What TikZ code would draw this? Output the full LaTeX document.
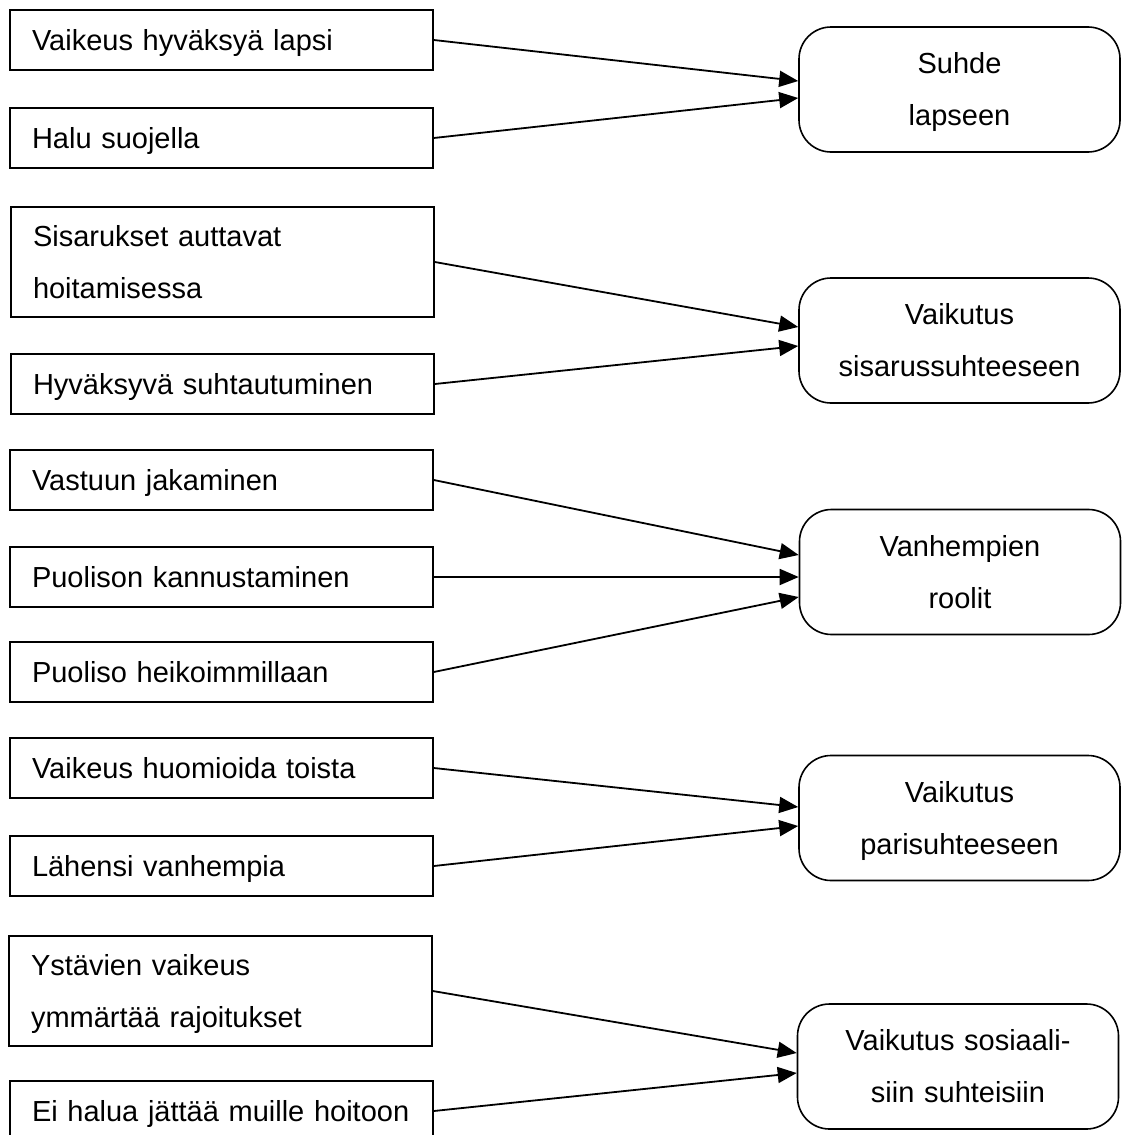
\documentclass[tikz,border=0pt]{standalone}
\usepackage{fontspec}
\setmainfont{Liberation Sans}
\usetikzlibrary{arrows.meta}
\begin{document}
\begin{tikzpicture}[x=1pt,y=-1pt,
  txt/.style={font=\fontsize{29}{52}\selectfont,
    execute at begin node=\strut, execute at end node=\strut},
  cause/.style={txt, draw, line width=1.6pt, minimum width=423pt,
    text width=379pt, inner xsep=22pt, inner ysep=0pt,
    minimum height=60pt, align=left},
  tall/.style={minimum height=110pt},
  effect/.style={txt, draw, line width=1.6pt, rounded corners=32pt,
    minimum width=321pt, minimum height=125pt, text width=300pt,
    inner xsep=10.5pt, inner ysep=0pt, align=center},
  link/.style={line width=1.8pt, -{Triangle[length=19pt,width=16pt]}}]

\useasboundingbox (0,0) rectangle (1124,1135);
\fill[white] (0,0) rectangle (1124,1135);

% causes (left column)
\node[cause] (b1) at (221.5,40) {Vaikeus hyväksyä lapsi};
\node[cause] (b2) at (221.5,138) {Halu suojella};
\node[cause,tall] (b3) at (222.5,262) {Sisarukset auttavat\\hoitamisessa};
\node[cause] (b4) at (222.5,384) {Hyväksyvä suhtautuminen};
\node[cause] (b5) at (221.5,480) {Vastuun jakaminen};
\node[cause] (b6) at (221.5,577) {Puolison kannustaminen};
\node[cause] (b7) at (221.5,672) {Puoliso heikoimmillaan};
\node[cause] (b8) at (221.5,768) {Vaikeus huomioida toista};
\node[cause] (b9) at (221.5,866) {Lähensi vanhempia};
\node[cause,tall] (b10) at (220.5,991) {Ystävien vaikeus\\ymmärtää rajoitukset};
\node[cause] (b11) at (221.5,1111) {Ei halua jättää muille hoitoon};

% effects (right column)
\node[effect] (r1) at (959.5,89.5) {Suhde\\lapseen};
\node[effect] (r2) at (959.5,340.5) {Vaikutus\\sisarussuhteeseen};
\node[effect] (r3) at (960,572) {Vanhempien\\roolit};
\node[effect] (r4) at (959.5,818) {Vaikutus\\parisuhteeseen};
\node[effect] (r5) at (958,1066.5) {Vaikutus sosiaali-\\siin suhteisiin};

% connectors
\draw[link] (b1.east) -- ([yshift=8.5pt]r1.west);
\draw[link] (b2.east) -- ([yshift=-8.5pt]r1.west);
\draw[link] (b3.east) -- ([yshift=13.5pt]r2.west);
\draw[link] (b4.east) -- ([yshift=-5.5pt]r2.west);
\draw[link] (b5.east) -- ([yshift=17pt]r3.west);
\draw[link] (b6.east) -- ([yshift=-5pt]r3.west);
\draw[link] (b7.east) -- ([yshift=-25pt]r3.west);
\draw[link] (b8.east) -- ([yshift=11pt]r4.west);
\draw[link] (b9.east) -- ([yshift=-8pt]r4.west);
\draw[link] (b10.east) -- ([yshift=13.5pt]r5.west);
\draw[link] (b11.east) -- ([yshift=-6.5pt]r5.west);
\end{tikzpicture}
\end{document}
